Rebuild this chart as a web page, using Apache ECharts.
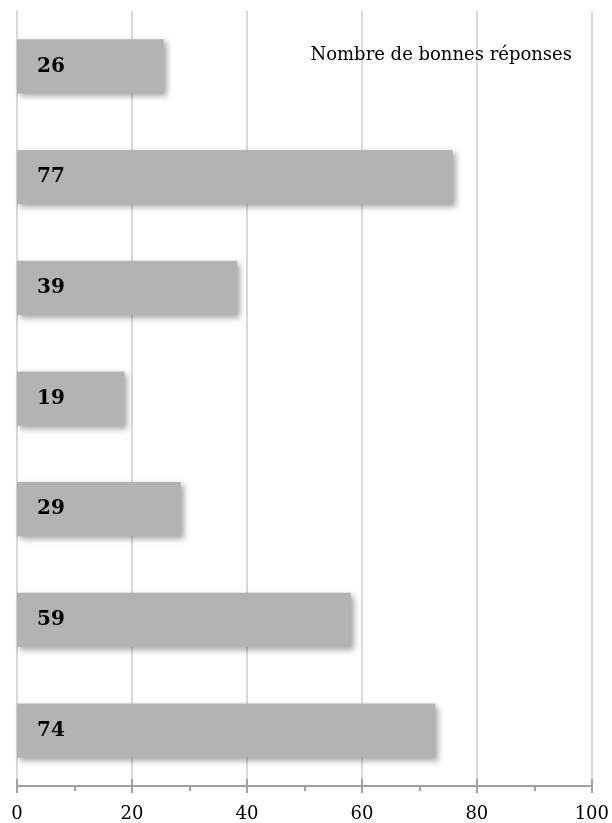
<!DOCTYPE html>
<html>
<head>
<meta charset="utf-8">
<script src="https://cdn.jsdelivr.net/npm/echarts@6/dist/echarts.min.js"></script>
<style>
html,body{margin:0;padding:0;background:#fff;}
#chart{width:612px;height:823px;}
</style>
</head>
<body>
<div id="chart"></div>
<script>
// Categories (top to bottom) - not displayed in the reference
var categories = ['1', '2', '3', '4', '5', '6', '7'];
// Bar lengths
var barValues = [25.5, 75.8, 38.3, 18.7, 28.5, 58.1, 72.8];
// Value labels printed on bars
var barLabels = ['26', '77', '39', '19', '29', '59', '74'];
var seriesName = 'Nombre de bonnes réponses';
var xMin = 0, xMax = 100, xInterval = 20;

var chart = echarts.init(document.getElementById('chart'));
var serif = 'DejaVu Serif';
chart.setOption({
  animation: false,
  backgroundColor: '#ffffff',
  grid: { left: 17, right: 15, top: 11, bottom: 35, containLabel: false },
  legend: {
    data: [seriesName],
    right: 35, top: 41,
    itemWidth: 0, itemHeight: 0, itemGap: 0,
    icon: 'none',
    textStyle: { fontFamily: serif, fontSize: 18, color: '#000', padding: 0 }
  },
  xAxis: [{
    type: 'value', min: xMin, max: xMax, interval: xInterval,
    axisLine: { show: true, lineStyle: { color: '#a0a0a0', width: 2 } },
    axisTick: { show: true, inside: false, length: 7, lineStyle: { color: '#a0a0a0', width: 2 } },
    minorTick: { show: true, splitNumber: 2, length: 5, lineStyle: { color: '#a0a0a0', width: 2 } },
    splitLine: { show: true, lineStyle: { color: '#d9d9d9', width: 2 } },
    axisLabel: { color: '#000', fontFamily: serif, fontSize: 18, margin: 19 }
  }, {
    type: 'value', min: xMin, max: xMax, interval: xInterval, position: 'bottom',
    axisLine: { show: false },
    axisTick: { show: true, inside: true, length: 7, lineStyle: { color: '#a0a0a0', width: 2 } },
    splitLine: { show: false },
    axisLabel: { show: false }
  }],
  yAxis: {
    type: 'category', data: categories, inverse: true,
    axisLine: { show: true, lineStyle: { color: '#d9d9d9', width: 2 } },
    axisTick: { show: false },
    axisLabel: { show: false }
  },
  series: [{
    name: seriesName,
    type: 'bar',
    data: barValues,
    barWidth: '49%',
    itemStyle: {
      color: '#b3b3b3',
      shadowColor: 'rgba(0,0,0,0.35)', shadowBlur: 6, shadowOffsetX: 3, shadowOffsetY: 3
    },
    label: {
      show: true, position: 'insideLeft', distance: 20,
      formatter: function (p) { return barLabels[p.dataIndex]; },
      fontFamily: serif, fontWeight: 'bold', fontSize: 20, color: '#000'
    }
  }]
});
</script>
</body>
</html>
